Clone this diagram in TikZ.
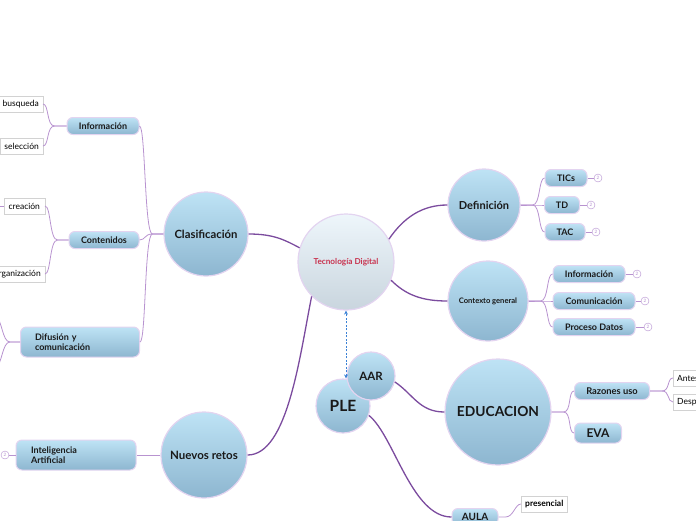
\documentclass[tikz,border=0pt]{standalone}
\usepackage{fontspec}
\setmainfont{Lato}
\usetikzlibrary{arrows.meta,shadows}

\definecolor{rim}{HTML}{E3D4F0}
\definecolor{bubtop}{HTML}{BEE3F5}
\definecolor{bubbot}{HTML}{8DB6D0}
\definecolor{tdtop}{HTML}{EEF6FB}
\definecolor{tdbot}{HTML}{C9D5DE}
\definecolor{tdred}{HTML}{C8334F}
\definecolor{trunk}{HTML}{7B4B9E}
\definecolor{twig}{HTML}{B893D0}
\definecolor{badgerim}{HTML}{B48FD0}
\definecolor{linkblue}{HTML}{3B82D6}

\begin{document}
\begin{tikzpicture}[x=1pt,y=-1pt,
  bubble/.style={circle,draw=rim,line width=1.2pt,top color=bubtop,bottom color=bubbot,inner sep=0pt,minimum size=#1,text=black!90},
  pill/.style={rounded corners=6pt,draw=rim,line width=1pt,top color=bubtop,bottom color=bubbot,minimum height=17pt,inner sep=0pt,font=\bfseries\fontsize{9}{10.5}\selectfont,text=black!90},
  leaf/.style={draw=gray!35,fill=white,minimum height=16pt,inner xsep=4pt,inner ysep=0pt,font=\fontsize{8.5}{10}\selectfont,drop shadow={opacity=.25,shadow xshift=.8pt,shadow yshift=-.8pt}},
  badge/.style={circle,draw=badgerim,fill=white,inner sep=0pt,minimum size=8pt,font=\fontsize{4.5}{5}\selectfont,text=badgerim},
  thick line/.style={draw=trunk,line width=1.3pt},
  thin line/.style={draw=twig,line width=0.8pt},
  twigR/.style={to path={-- ++(#1,0) .. controls +(8,0) and +(-6,0) .. (\tikztotarget)}},
  twigL/.style={to path={-- ++(-#1,0) .. controls +(-8,0) and +(6,0) .. (\tikztotarget)}}]
\useasboundingbox (0,0) rectangle (696,520);
\clip (0,0) rectangle (696,520);

% main circles
\node[bubble=96pt,top color=tdtop,bottom color=tdbot,text=tdred,font=\bfseries\fontsize{8.2}{9}\selectfont] (tec) at (346,262) {Tecnología Digital};
\node[bubble=84pt,font=\bfseries\fontsize{11.3}{13}\selectfont] (clas) at (206,234) {Clasificación};
\node[bubble=86pt,font=\bfseries\fontsize{11.5}{13}\selectfont] (nuevos) at (204,455) {Nuevos retos};
\node[bubble=72pt,font=\bfseries\fontsize{11}{13}\selectfont] (defi) at (484,205) {Definición};
\node[bubble=80pt,font=\bfseries\fontsize{7.6}{9}\selectfont] (contexto) at (488,301) {Contexto general};
\node[bubble=106pt,font=\bfseries\fontsize{13.8}{16}\selectfont] (edu) at (498,412) {EDUCACION};
\node[bubble=54pt,font=\bfseries\fontsize{15.5}{17}\selectfont] (ple) at (343,406) {PLE};
\node[bubble=48pt,font=\bfseries\fontsize{11.5}{13}\selectfont] (aar) at (371,376) {AAR};

% left side
\node[pill,minimum width=72pt] (info) at (103,126) {Información};
\node[pill,minimum width=70pt] (conten) at (104,240) {Contenidos};
\node[pill,minimum width=119pt,minimum height=30pt,text width=90pt,inner xsep=14.5pt,align=left] (difu) at (80,342) {Difusión y\\comunicación};
\node[pill,minimum width=120pt,minimum height=30pt,text width=90pt,inner xsep=15pt,align=left] (intel) at (76,455) {Inteligencia\\Artificial};
\node[leaf,anchor=east,text width=50pt,align=right] (busq) at (43,104) {busqueda};
\node[leaf,anchor=east] (selec) at (43,146) {selección};
\node[leaf,anchor=east,minimum width=41pt] (crea) at (45,206) {creación};
\node[leaf,anchor=east] (orga) at (45,274) {organización};
\node[badge] (b7) at (5,455) {2};
\coordinate (creaL) at (-4,206);
\coordinate (difA) at (-4,318);
\coordinate (difB) at (-4,366);

% right side
\node[pill,minimum width=42pt] (tics) at (566,178) {TICs};
\node[pill,minimum width=35pt] (tdn) at (562,205) {TD};
\node[pill,minimum width=40pt] (tac) at (565,232) {TAC};
\node[pill,minimum width=72pt] (info2) at (589,274) {Información};
\node[pill,minimum width=82pt] (comu) at (594,301) {Comunicación};
\node[pill,minimum width=82pt] (proc) at (594,327) {Proceso Datos};
\node[pill,minimum width=75pt,font=\bfseries\fontsize{9.3}{11}\selectfont] (razon) at (612,391) {Razones uso};
\node[pill,minimum width=47pt,minimum height=20pt,font=\bfseries\fontsize{12}{14}\selectfont] (eva) at (598,433) {EVA};
\node[pill,minimum width=46pt,font=\bfseries\fontsize{10}{12}\selectfont] (aula) at (475,517) {AULA};
\node[leaf,anchor=west] (antes) at (673,378) {Antes};
\node[leaf,anchor=west] (desp) at (673,402) {Después};
\node[leaf,anchor=west,font=\bfseries\fontsize{8.5}{10}\selectfont] (pres) at (521,504) {presencial};
\node[badge] (b1) at (598,178) {2};
\node[badge] (b2) at (591,205) {2};
\node[badge] (b3) at (596,232) {2};
\node[badge] (b4) at (637,274) {2};
\node[badge] (b5) at (645,301) {2};
\node[badge] (b6) at (648,327) {2};

% trunks
\draw[thick line] (tec.163) .. controls +(-15,-8) and +(25,0) .. (clas.east);
\draw[thick line] (tec.225) .. controls +(-12,60) and +(40,0) .. (nuevos.east);
\draw[thick line] (tec.28) .. controls +(15,-22) and +(-25,0) .. (defi.west);
\draw[thick line] (tec.-22) .. controls +(15,15) and +(-25,0) .. (contexto.west);
\draw[thick line] (aar.-14) .. controls +(18,12) and +(-25,0) .. (edu.west);
\draw[thick line] (ple.-20) .. controls +(25,20) and +(-40,0) .. (aula.west);
\draw[linkblue,line width=.8pt,dash pattern=on 2pt off 1.5pt,{Stealth[length=4pt,width=4pt]}-{Stealth[length=4pt,width=4pt]}] (tec.south |- ple.north) -- (tec.south);

% twigs
\draw[thin line] (clas.west) to[twigL=11] (info.east);
\draw[thin line] (clas.west) to[twigL=11] (conten.east);
\draw[thin line] (clas.west) to[twigL=11] (difu.east);
\draw[thin line] (info.west) to[twigL=12] (busq.east);
\draw[thin line] (info.west) to[twigL=12] (selec.east);
\draw[thin line] (conten.west) to[twigL=11] (crea.east);
\draw[thin line] (conten.west) to[twigL=11] (orga.east);
\draw[thin line] (difu.west) to[twigL=10] (difA);
\draw[thin line] (difu.west) to[twigL=10] (difB);
\draw[thin line] (crea.west) -- (creaL);
\draw[thin line] (nuevos.west) -- (intel.east);
\draw[thin line] (intel.west) -- (b7.east);
\draw[thin line] (defi.east) to[twigR=12] (tics.west);
\draw[thin line] (defi.east) to[twigR=12] (tdn.west);
\draw[thin line] (defi.east) to[twigR=12] (tac.west);
\draw[thin line] (contexto.east) to[twigR=12] (info2.west);
\draw[thin line] (contexto.east) to[twigR=12] (comu.west);
\draw[thin line] (contexto.east) to[twigR=12] (proc.west);
\draw[thin line] (edu.east) to[twigR=12] (razon.west);
\draw[thin line] (edu.east) to[twigR=12] (eva.west);
\draw[thin line] (razon.east) to[twigR=12] (antes.west);
\draw[thin line] (razon.east) to[twigR=12] (desp.west);
\draw[thin line] (aula.east) to[twigR=7] (pres.west);
\draw[thin line] (tics.east) -- (b1.west);
\draw[thin line] (tdn.east) -- (b2.west);
\draw[thin line] (tac.east) -- (b3.west);
\draw[thin line] (info2.east) -- (b4.west);
\draw[thin line] (comu.east) -- (b5.west);
\draw[thin line] (proc.east) -- (b6.west);
\end{tikzpicture}
\end{document}
